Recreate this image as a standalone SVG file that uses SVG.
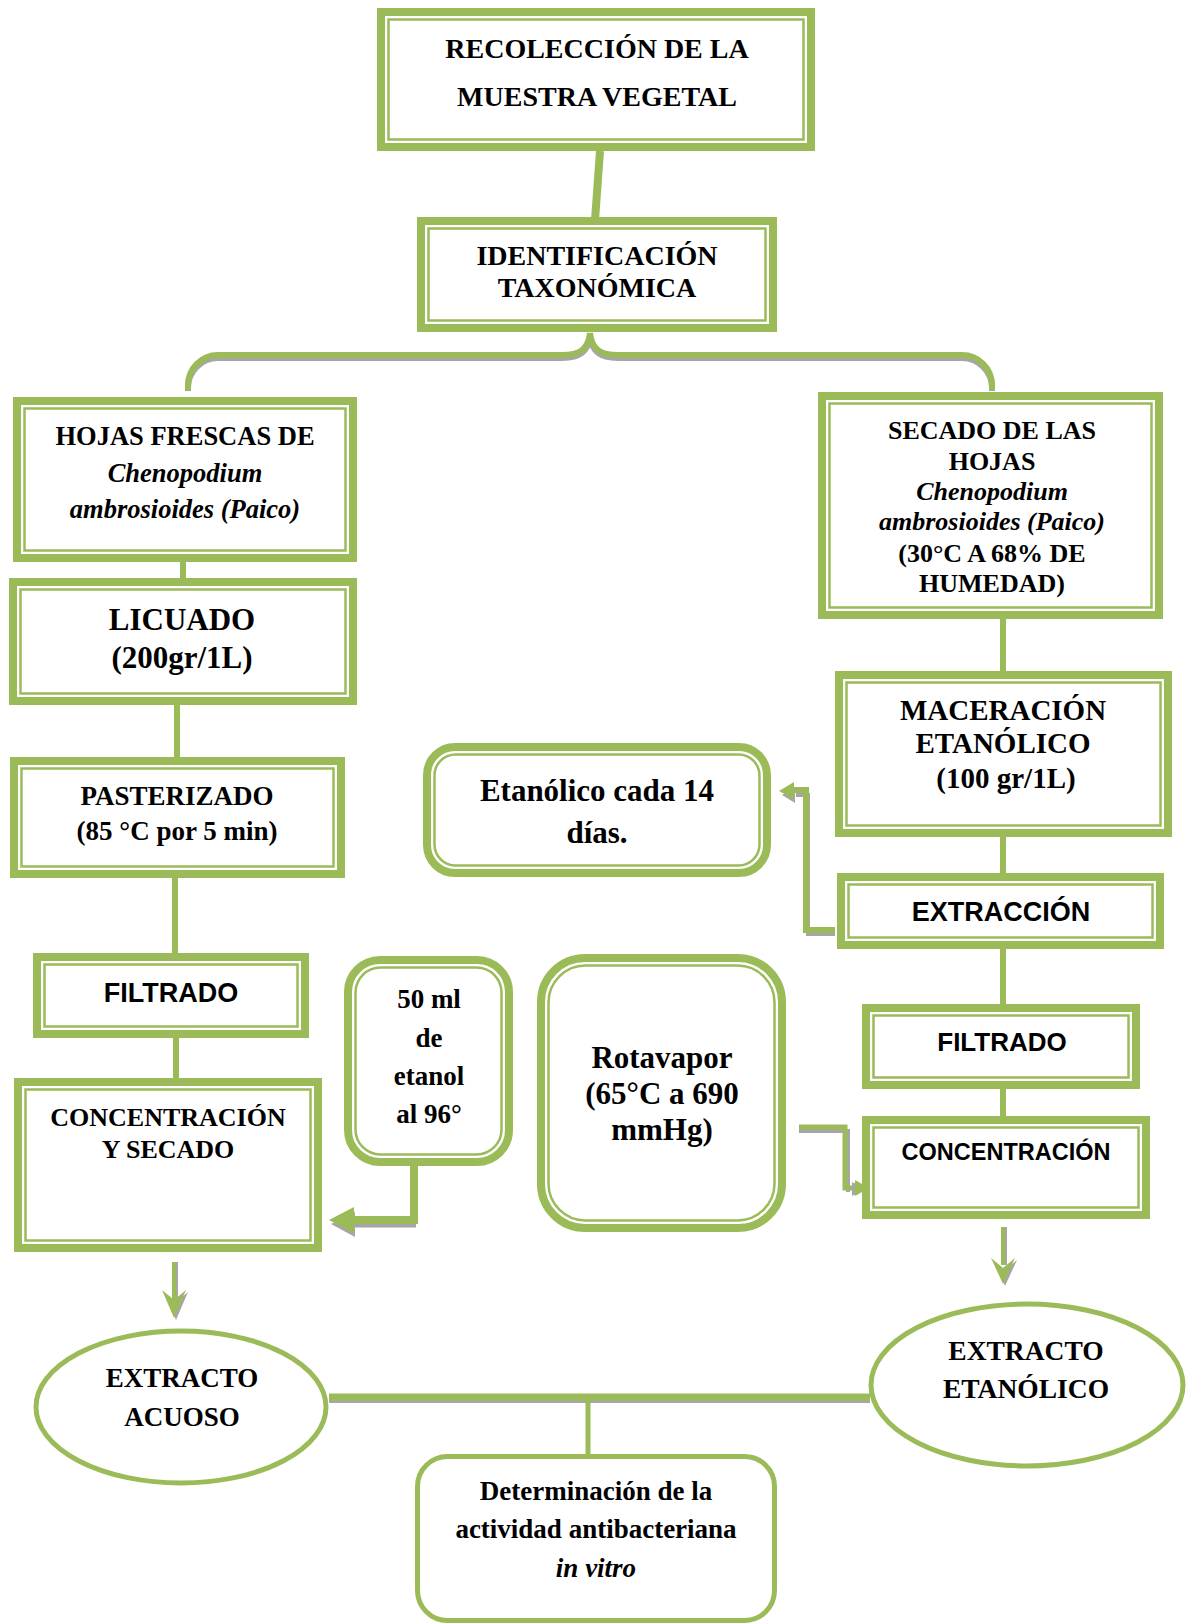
<svg xmlns="http://www.w3.org/2000/svg" width="1187" height="1624" viewBox="0 0 1187 1624">
<style>
.o{fill:#fff;stroke:#9BBB59;stroke-width:8}
.i{fill:none;stroke:#9BBB59;stroke-width:2.5}
.c{fill:none;stroke:#9BBB59;stroke-width:6}
.sh{fill:none;stroke:#A6A6A6}
.ah{fill:#9BBB59}
.ahs{fill:#A6A6A6}
.t{font-family:"Liberation Serif","Times New Roman",serif;font-weight:bold;text-anchor:middle;fill:#000}
.s{font-family:"Liberation Sans",Arial,sans-serif;font-weight:bold;text-anchor:middle;fill:#000}
.it{font-style:italic}
</style>
<rect width="1187" height="1624" fill="#fff"/>
<g id="connectors">
<line class="c" x1="600" y1="151" x2="595" y2="220" style="stroke-width:8"/>
<path class="sh" style="stroke-width:6" d="M188 391 V388 A30 30 0 0 1 218 358 H562 C580 358 588 352 590 336 C592 352 600 358 618 358 H962 A30 30 0 0 1 992 388 V391"/>
<path class="c" d="M188 390 V385 A30 30 0 0 1 218 355 H562 C580 355 588 349 590 333 C592 349 600 355 618 355 H962 A30 30 0 0 1 992 385 V390"/>
<line class="c" x1="183" y1="560" x2="183" y2="580"/>
<line class="c" x1="177" y1="703" x2="177" y2="759"/>
<line class="c" x1="175" y1="876" x2="175" y2="955"/>
<line class="c" x1="176" y1="1036" x2="176" y2="1080"/>
<line class="c" x1="1003" y1="617" x2="1003" y2="673"/>
<line class="c" x1="1003" y1="835" x2="1003" y2="875"/>
<line class="c" x1="1003" y1="947" x2="1003" y2="1006"/>
<line class="c" x1="1003" y1="1087" x2="1003" y2="1118"/>
<!-- 50 ml to concentracion y secado -->
<path class="sh" style="stroke-width:5" d="M416 1225 H355"/>
<polygon class="ahs" points="331,1224 355,1212 355,1237"/>
<path class="c" style="stroke-width:8" d="M414 1166 V1220 H352"/>
<polygon class="ah" points="329,1220 354,1207 354,1233"/>
<!-- extraccion to etanolico -->
<path class="sh" style="stroke-width:4" d="M835 934 H808 V795 H796"/>
<path class="c" style="stroke-width:6" d="M835 930 H806 V790 H792"/>
<polygon class="ahs" points="782,795 795,787 795,803"/>
<polygon class="ah" points="779,791 794,782 794,799"/>
<!-- rotavapor to concentracion -->
<path class="sh" style="stroke-width:4" d="M799 1131 H848 V1192"/>
<path class="c" style="stroke-width:5" d="M799 1127 H845 V1188 H856"/>
<polygon class="ahs" points="866,1189 852,1196 852,1182"/>
<polygon class="ah" points="869,1188 855,1180 855,1196"/>
<!-- down arrows -->
<line class="sh" x1="176" y1="1262" x2="176" y2="1300" style="stroke-width:4"/>
<line class="c" x1="174" y1="1262" x2="174" y2="1300" style="stroke-width:4"/>
<polygon class="ahs" points="176,1320 164,1292 176,1302 188,1292"/>
<polygon class="ah" points="174,1318 162,1290 174,1300 186,1290"/>
<line class="sh" x1="1005" y1="1227" x2="1005" y2="1265" style="stroke-width:4"/>
<line class="c" x1="1003" y1="1227" x2="1003" y2="1265" style="stroke-width:4"/>
<polygon class="ahs" points="1005,1286 993,1260 1005,1270 1017,1260"/>
<polygon class="ah" points="1003,1284 991,1258 1003,1268 1015,1258"/>
<!-- between extracts -->
<line class="sh" x1="329" y1="1401" x2="870" y2="1401" style="stroke-width:4"/>
<line class="c" x1="329" y1="1397" x2="870" y2="1397" style="stroke-width:7"/>
<line class="c" x1="588" y1="1400" x2="588" y2="1456" style="stroke-width:5"/>
</g>
<g id="n1"><rect class="o" x="381" y="12" width="430" height="135"/><rect class="i" x="388.5" y="19.5" width="415" height="120"/>
<text class="t" x="597" y="58" font-size="28">RECOLECCIÓN DE LA</text><text class="t" x="597" y="106" font-size="28">MUESTRA VEGETAL</text></g>
<g id="n2"><rect class="o" x="421" y="221" width="352" height="107"/><rect class="i" x="428.5" y="228.5" width="337" height="92"/>
<text class="t" x="597" y="265" font-size="28">IDENTIFICACIÓN</text><text class="t" x="597" y="297" font-size="28">TAXONÓMICA</text></g>
<g id="n3"><rect class="o" x="17" y="401" width="336" height="157"/><rect class="i" x="24.5" y="408.5" width="321" height="142"/>
<text class="t" x="185" y="445" font-size="26.5">HOJAS FRESCAS DE</text><text class="t it" x="185" y="482" font-size="26.5">Chenopodium</text><text class="t it" x="185" y="518" font-size="26.5">ambrosioides (Paico)</text></g>
<g id="n4"><rect class="o" x="13" y="582" width="340" height="119"/><rect class="i" x="20.5" y="589.5" width="325" height="104"/>
<text class="t" x="182" y="630" font-size="31">LICUADO</text><text class="t" x="182" y="668" font-size="31">(200gr/1L)</text></g>
<g id="n5"><rect class="o" x="14" y="761" width="327" height="113"/><rect class="i" x="21.5" y="768.5" width="312" height="98"/>
<text class="t" x="177" y="805" font-size="27">PASTERIZADO</text><text class="t" x="177" y="840" font-size="27">(85 °C por 5 min)</text></g>
<g id="n6"><rect class="o" x="37" y="957" width="268" height="77"/><rect class="i" x="44.5" y="964.5" width="253" height="62"/>
<text class="s" x="171" y="1002" font-size="27">FILTRADO</text></g>
<g id="n7"><rect class="o" x="18" y="1082" width="300" height="166"/><rect class="i" x="25.5" y="1089.5" width="285" height="151"/>
<text class="t" x="168" y="1126" font-size="26">CONCENTRACIÓN</text><text class="t" x="168" y="1158" font-size="26">Y SECADO</text></g>
<g id="n8"><rect class="o" x="348" y="960" width="161" height="202" rx="32"/><rect class="i" x="355.5" y="967.5" width="146" height="187" rx="25"/>
<text class="t" x="429" y="1008" font-size="27">50 ml</text><text class="t" x="429" y="1047" font-size="27">de</text><text class="t" x="429" y="1085" font-size="27">etanol</text><text class="t" x="429" y="1123" font-size="27">al 96°</text></g>
<g id="n9"><rect class="o" x="427" y="747" width="340" height="126" rx="28"/><rect class="i" x="434.5" y="754.5" width="325" height="111" rx="21"/>
<text class="t" x="597" y="801" font-size="31">Etanólico cada 14</text><text class="t" x="597" y="843" font-size="31">días.</text></g>
<g id="n10"><rect class="o" x="822" y="396" width="337" height="219"/><rect class="i" x="829.5" y="403.5" width="322" height="204"/>
<text class="t" x="992" y="439" font-size="26">SECADO DE LAS</text><text class="t" x="992" y="470" font-size="26">HOJAS</text><text class="t it" x="992" y="500" font-size="26">Chenopodium</text><text class="t it" x="992" y="530" font-size="26">ambrosioides (Paico)</text><text class="t" x="992" y="562" font-size="26">(30°C A 68% DE</text><text class="t" x="992" y="592" font-size="26">HUMEDAD)</text></g>
<g id="n11"><rect class="o" x="839" y="675" width="329" height="158"/><rect class="i" x="846.5" y="682.5" width="314" height="143"/>
<text class="t" x="1003" y="720" font-size="29">MACERACIÓN</text><text class="t" x="1003" y="753" font-size="29">ETANÓLICO</text><text class="t" x="1006" y="788" font-size="29">(100 gr/1L)</text></g>
<g id="n12"><rect class="o" x="841" y="877" width="319" height="68"/><rect class="i" x="848.5" y="884.5" width="304" height="53"/>
<text class="s" x="1001" y="921" font-size="27">EXTRACCIÓN</text></g>
<g id="n13"><rect class="o" x="866" y="1008" width="270" height="77"/><rect class="i" x="873.5" y="1015.5" width="255" height="62"/>
<text class="s" x="1002" y="1051" font-size="26">FILTRADO</text></g>
<g id="n14"><rect class="o" x="866" y="1120" width="280" height="95"/><rect class="i" x="873.5" y="1127.5" width="265" height="80"/>
<text class="s" x="1006" y="1160" font-size="23.5">CONCENTRACIÓN</text></g>
<g id="n15"><rect class="o" x="541" y="958" width="241" height="270" rx="44"/><rect class="i" x="548.5" y="965.5" width="226" height="255" rx="37"/>
<text class="t" x="662" y="1068" font-size="31">Rotavapor</text><text class="t" x="662" y="1104" font-size="31">(65°C a 690</text><text class="t" x="662" y="1140" font-size="31">mmHg)</text></g>
<g id="n16"><ellipse cx="181" cy="1407" rx="145" ry="76" fill="#fff" stroke="#9BBB59" stroke-width="5"/>
<text class="t" x="182" y="1387" font-size="27">EXTRACTO</text><text class="t" x="182" y="1426" font-size="27">ACUOSO</text></g>
<g id="n17"><ellipse cx="1027" cy="1385" rx="156" ry="81" fill="#fff" stroke="#9BBB59" stroke-width="5"/>
<text class="t" x="1026" y="1360" font-size="27.5">EXTRACTO</text><text class="t" x="1026" y="1398" font-size="27.5">ETANÓLICO</text></g>
<g id="n18"><rect x="417.5" y="1456.5" width="357" height="164" rx="30" fill="#fff" stroke="#9BBB59" stroke-width="5"/>
<text class="t" x="596" y="1500" font-size="27">Determinación de la</text><text class="t" x="596" y="1538" font-size="27">actividad antibacteriana</text><text class="t it" x="596" y="1577" font-size="27">in vitro</text></g>
</svg>
